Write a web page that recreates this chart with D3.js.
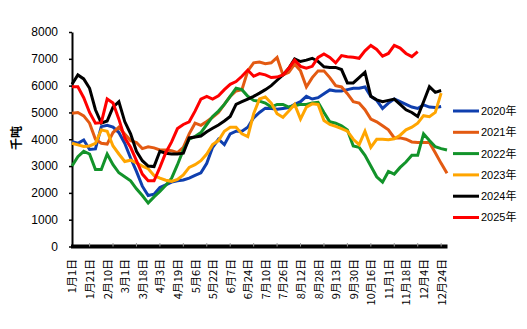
<!DOCTYPE html>
<html>
<head>
<meta charset="utf-8">
<script src="https://cdn.jsdelivr.net/npm/d3@7"></script>
<style>
  body { margin: 0; background: #fff; }
  text { font-family: "Liberation Sans", Arial, "Noto Sans CJK SC", sans-serif; }
</style>
</head>
<body>
<svg id="chart" width="527" height="329"></svg>
<script>
// Category tick labels (one every 3 sample points)
const tickLabels = ["1月1日","1月21日","2月10日","3月1日","3月18日","4月3日","4月19日","5月6日","5月22日","6月7日","6月24日","7月10日","7月26日","8月12日","8月28日","9月13日","9月30日","10月16日","11月1日","11月18日","12月4日","12月24日"];

const seriesNames = ["2020年","2021年","2022年","2023年","2024年","2025年"];
const seriesColors = ["#0f3fae","#e35a12","#12932a","#ffa500","#000000","#ff0000"];

// Values in 千吨, one per sample point
const v2020 = [3910,3850,3970,3620,3640,4470,4520,4450,4250,3850,
               3300,2800,2250,1900,1950,2200,2300,2400,2450,2480,
               2550,2650,2750,3100,3700,4000,3800,4200,4300,4300,
               4450,4800,5000,5160,5150,5120,5150,5180,5300,5400,
               5600,5500,5550,5700,5840,5800,5800,5850,5900,5900,
               5950,5600,5450,5150,5350,5500,5400,5300,5200,5150,
               5280,5200,5180,5220];
const v2021 = [4970,5000,4870,4600,4000,3850,3820,4250,4450,4200,
               3950,3880,3650,3720,3680,3600,3600,3570,3500,3700,
               4200,4600,4520,4660,4820,5000,5300,5600,5800,5850,
               6550,6850,6880,6820,6850,7050,6400,6500,6800,6550,
               5950,6300,6550,6550,6300,6000,5950,5700,5400,5350,
               5100,4750,4650,4500,4350,4050,4050,4000,3900,3880,
               3880,3880,3500,3100,2730];
const v2022 = [3000,3350,3550,3450,2870,2870,3450,3050,2750,2600,
               2450,2150,1900,1620,1850,2050,2280,2550,3050,3600,
               4000,4100,4250,4550,4850,5050,5300,5600,5900,5850,
               5600,5450,5420,5350,5200,5300,5300,5200,5250,5300,
               5300,5350,5380,5000,4650,4600,4500,4350,3750,3700,
               3400,3000,2600,2400,2800,2700,2950,3150,3400,3400,
               4200,3950,3720,3650,3600];
const v2023 = [3850,3790,3730,3750,3850,4350,4300,3750,3450,3170,
               3220,3120,3000,2900,2650,2550,2470,2430,2500,2670,
               2950,3050,3200,3450,3800,3950,4300,4450,4450,4200,
               4100,4950,5500,5580,5350,4950,4820,5050,5300,4750,
               5200,5320,5300,4700,4550,4480,4400,4300,4000,3800,
               4300,3700,4000,4000,3980,4020,4150,4350,4450,4600,
               4880,4840,5000,5720];
const v2024 = [6050,6400,6250,5900,5100,4600,4680,5200,5400,4660,
               4200,3550,3200,3000,2980,3550,3480,3450,3450,3480,
               4050,4080,4120,4280,4410,4530,4680,4850,5300,5400,
               5500,5600,5720,5850,6000,6200,6400,6650,7000,6900,
               6950,7020,6900,6700,6680,6680,6600,6100,6100,6300,
               6500,5600,5470,5400,5450,5500,5300,5100,5000,4850,
               5400,5960,5750,5820];
const v2025 = [5960,5960,5550,5000,4600,4620,5500,5350,4750,4050,
               3700,3200,2700,2450,2450,2950,3500,3900,4400,4550,
               4650,5050,5500,5600,5500,5620,5850,6050,6150,6350,
               6580,6350,6450,6400,6300,6320,6400,6650,6950,6720,
               6650,6720,7050,7180,7050,6850,7120,7080,7060,7020,
               7300,7500,7350,7100,7200,7500,7400,7200,7080,7270];

const seriesValues = [v2020, v2021, v2022, v2023, v2024, v2025];
const yTicks = [0,1000,2000,3000,4000,5000,6000,7000,8000];

const svg = d3.select("#chart");

const x = d3.scaleLinear().domain([0, 64]).range([72, 447]);
const y = d3.scaleLinear().domain([0, 8000]).range([246.5, 32]);

// Y axis
const yAxis = svg.append("g")
  .attr("transform", "translate(72,0)")
  .call(d3.axisLeft(y).tickValues(yTicks).tickSize(3).tickSizeOuter(0).tickPadding(11).tickFormat(d3.format("d")));
yAxis.select(".domain").attr("stroke", "#000").attr("stroke-width", 2);
yAxis.selectAll(".tick line").attr("stroke", "#000").attr("stroke-width", 1.5);
yAxis.selectAll("text")
  .attr("font-size", 12)
  .attr("fill", "#000")
  .style("font-family", "'Liberation Sans', Arial, sans-serif");

// Y axis title
svg.append("text")
  .attr("transform", "translate(15,138) rotate(-90)")
  .attr("text-anchor", "middle")
  .attr("dominant-baseline", "central")
  .attr("font-size", 12)
  .attr("font-weight", "bold")
  .style("font-family", "'Noto Sans CJK SC', sans-serif")
  .text("千吨");

// Series lines
const line = d3.line()
  .x((d, i) => x(i))
  .y(d => y(d));

svg.append("g").selectAll("path")
  .data(seriesValues)
  .join("path")
  .attr("d", d => line(d))
  .attr("fill", "none")
  .attr("stroke", (d, i) => seriesColors[i])
  .attr("stroke-width", 3)
  .attr("stroke-linejoin", "miter")
  .attr("stroke-miterlimit", 3);

// X axis: thick base line
svg.append("line")
  .attr("x1", 71).attr("x2", 447.5)
  .attr("y1", 246.5).attr("y2", 246.5)
  .attr("stroke", "#000")
  .attr("stroke-width", 4);

// Minor tick marks on the base line
svg.append("g").selectAll("line")
  .data(d3.range(3, 64, 4))
  .join("line")
  .attr("x1", d => x(d)).attr("x2", d => x(d))
  .attr("y1", 243).attr("y2", 246.5)
  .attr("stroke", "#9a9a9a")
  .attr("stroke-width", 1);

// X tick labels, rotated
const xAxis = svg.append("g")
  .attr("transform", "translate(0,246.5)")
  .call(d3.axisBottom(x)
    .tickValues(d3.range(0, 64, 3))
    .tickSize(0)
    .tickFormat(i => tickLabels[i / 3]));
xAxis.select(".domain").remove();
xAxis.selectAll("text")
  .attr("transform", "rotate(-90)")
  .attr("text-anchor", "end")
  .attr("x", -12.5)
  .attr("y", 0)
  .attr("dy", "0.36em")
  .attr("font-size", 11)
  .attr("fill", "#000")
  .style("font-family", "'Noto Sans CJK SC', sans-serif");

// Legend
const legend = svg.append("g");
const legendY = d3.scaleLinear().domain([0, 5]).range([111, 217.5]);
seriesNames.forEach((name, i) => {
  legend.append("line")
    .attr("x1", 453).attr("x2", 479)
    .attr("y1", legendY(i)).attr("y2", legendY(i))
    .attr("stroke", seriesColors[i])
    .attr("stroke-width", 3);
  legend.append("text")
    .attr("x", 481)
    .attr("y", legendY(i))
    .attr("dy", "0.36em")
    .attr("font-size", 11)
    .attr("fill", "#000")
    .style("font-family", "'Liberation Sans', 'Noto Sans CJK SC', sans-serif")
    .text(name);
});
</script>
</body>
</html>
